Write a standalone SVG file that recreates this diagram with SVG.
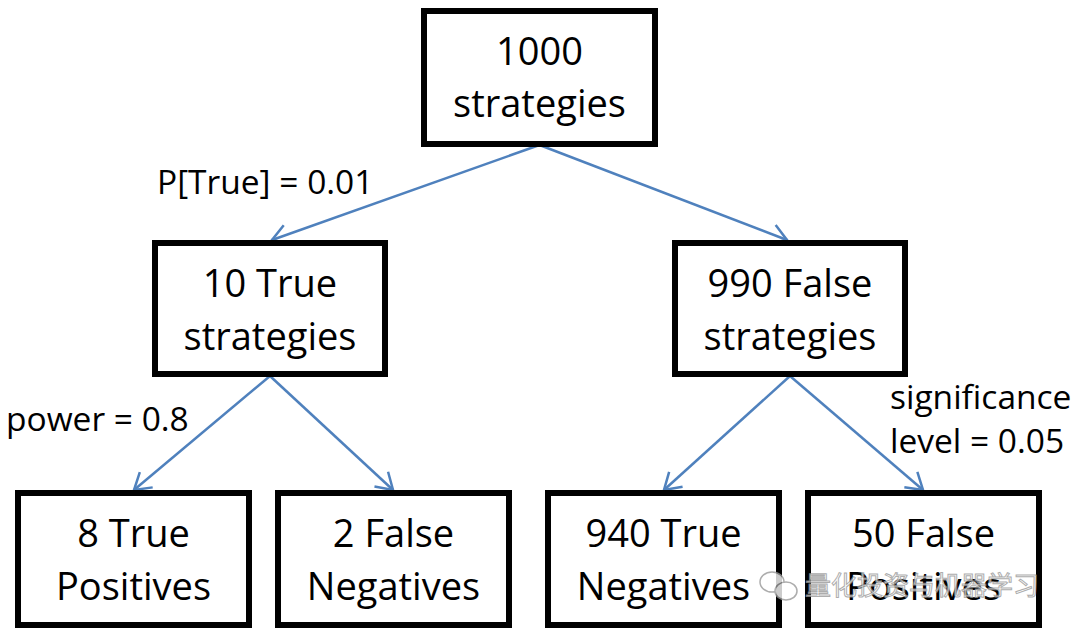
<svg xmlns="http://www.w3.org/2000/svg" width="1080" height="635" viewBox="0 0 1080 635">
<style>
.box{fill:#fff;stroke:#000;stroke-width:6}
.t{font-family:"Open Sans","Noto Sans",sans-serif;font-size:38px;fill:#000;text-anchor:middle}
.lbl{font-family:"Open Sans","Noto Sans",sans-serif;font-size:33.5px;fill:#000}
.c{stroke:#4F81BD;stroke-width:2.5;fill:none}
.wm{font-family:"Noto Sans CJK SC",sans-serif;font-size:26px;fill:#fff;stroke:#999;stroke-width:1}
</style>
<defs>
<marker id="ah" markerWidth="20" markerHeight="24" refX="18" refY="12" orient="auto" markerUnits="userSpaceOnUse">
<path d="M2,2 L18,12 L2,22" fill="none" stroke="#4F81BD" stroke-width="2.5"/>
</marker>
</defs>
<rect width="1080" height="635" fill="#fff"/>
<g id="connectors">
<line class="c" x1="539.5" y1="145" x2="272" y2="240" marker-end="url(#ah)"/>
<line class="c" x1="539.5" y1="145" x2="787" y2="240" marker-end="url(#ah)"/>
<line class="c" x1="270" y1="376" x2="134" y2="490" marker-end="url(#ah)"/>
<line class="c" x1="270" y1="376" x2="393" y2="490" marker-end="url(#ah)"/>
<line class="c" x1="790" y1="376" x2="664" y2="490" marker-end="url(#ah)"/>
<line class="c" x1="790" y1="376" x2="923" y2="490" marker-end="url(#ah)"/>
</g>
<g id="n-root"><rect class="box" x="424" y="11" width="231" height="133"/><text class="t" x="539.5" y="65">1000</text><text class="t" x="539.5" y="117">strategies</text></g>
<g id="n-true"><rect class="box" x="155" y="243" width="230" height="131"/><text class="t" x="270" y="297">10 True</text><text class="t" x="270" y="350">strategies</text></g>
<g id="n-false"><rect class="box" x="675" y="243" width="230" height="131"/><text class="t" x="790" y="297">990 False</text><text class="t" x="790" y="350">strategies</text></g>
<g id="n-tp"><rect class="box" x="18" y="493" width="231" height="132"/><text class="t" x="133.5" y="547">8 True</text><text class="t" x="133.5" y="600">Positives</text></g>
<g id="n-fn"><rect class="box" x="278" y="493" width="231" height="132"/><text class="t" x="393.5" y="547">2 False</text><text class="t" x="393.5" y="600">Negatives</text></g>
<g id="n-tn"><rect class="box" x="548" y="493" width="231" height="132"/><text class="t" x="663.5" y="547">940 True</text><text class="t" x="663.5" y="600">Negatives</text></g>
<g id="n-fp"><rect class="box" x="808" y="493" width="231" height="132"/><text class="t" x="923.5" y="547">50 False</text><text class="t" x="923.5" y="600">Positives</text></g>
<g id="labels">
<text class="lbl" x="157" y="194">P[True] = 0.01</text>
<text class="lbl" x="6" y="431">power = 0.8</text>
<text class="lbl" x="890" y="409">significance</text>
<text class="lbl" x="890" y="453">level = 0.05</text>
</g>
<g id="watermark" opacity="0.8">
<ellipse cx="772" cy="582" rx="12" ry="10" fill="#fff" stroke="#999" stroke-width="1.5"/>
<ellipse cx="786" cy="591" rx="11" ry="9" fill="#fff" stroke="#999" stroke-width="1.5"/>
<text class="wm" x="805" y="595">量化投资与机器学习</text>
</g>
</svg>
